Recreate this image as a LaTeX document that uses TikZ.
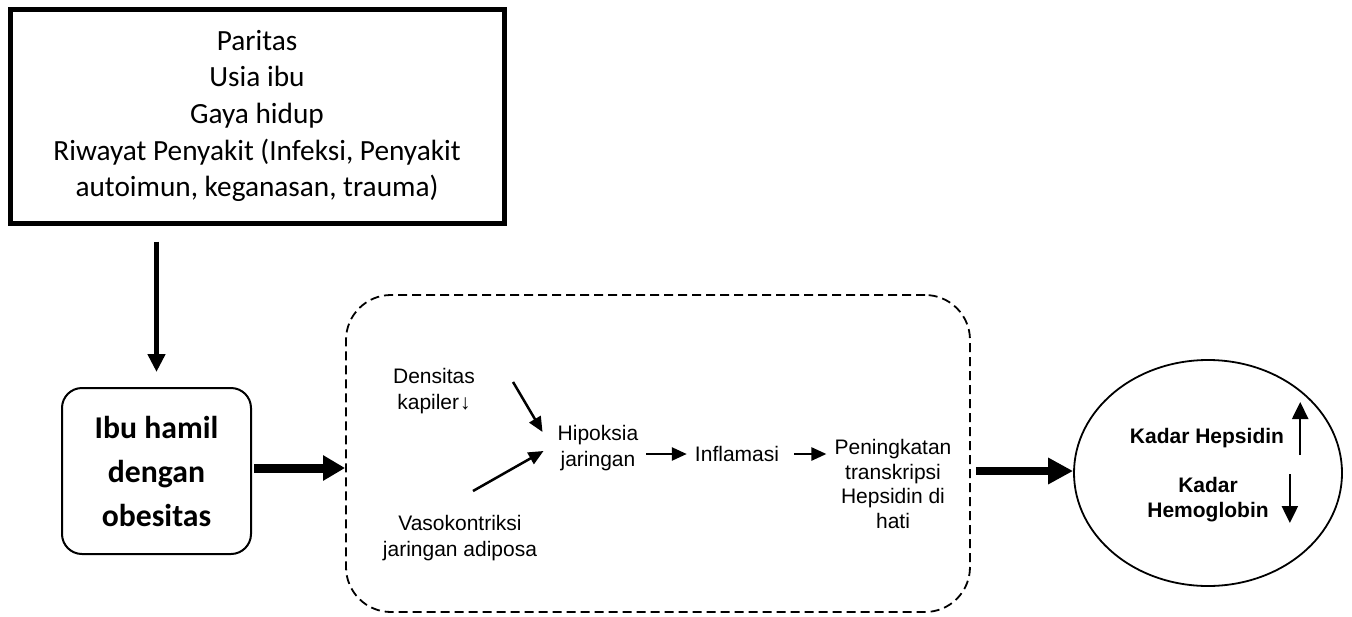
\documentclass[tikz,border=0pt]{standalone}
\usepackage{fontspec}
\setmainfont{Carlito}
\newfontfamily\arialfont{Liberation Sans}
\usetikzlibrary{arrows.meta}
\usetikzlibrary{shapes.geometric}
\tikzset{
  factorbox/.style={draw, line width=5pt, minimum width=494pt, minimum height=214pt, align=center, font=\fontsize{29.3}{36.7}\selectfont},
  subjectbox/.style={draw, line width=2pt, rounded corners=20pt, minimum width=189pt, minimum height=166pt, align=center, font=\fontsize{31.7}{44}\selectfont\bfseries},
  mechbox/.style={draw, dash pattern=on 9pt off 5pt, line width=1.8pt, rounded corners=45pt, minimum width=624pt, minimum height=317pt},
  resultnode/.style={draw, ellipse, line width=1.8pt, minimum width=268pt, minimum height=226pt},
  midtext/.style={align=center, inner sep=0pt, font=\arialfont\fontsize{21}{26}\selectfont},
  boldtext/.style={align=center, inner sep=0pt, font=\arialfont\bfseries\fontsize{21}{25}\selectfont},
  thinarrow/.style={line width=2.5pt, -{Triangle[length=15pt,width=13pt]}},
  levelarrow/.style={line width=2.5pt, -{Triangle[length=17pt,width=16pt]}},
}
\newcommand{\mtext}[3] {\node at (#1) (#2) [midtext] {#3};}
\newcommand{\marrow}[2] {\draw [thinarrow] (#1) -- (#2);}

\begin{document}
\begin{tikzpicture}[x=1pt,y=-1pt]
\useasboundingbox (0,0) rectangle (1352,616);

% main boxes
\node at (257,116) (factors) [factorbox] {Paritas\\Usia ibu\\Gaya hidup\\Riwayat Penyakit (Infeksi, Penyakit\\autoimun, keganasan, trauma)};
\node at (156.5,471) (subject) [subjectbox] {Ibu hamil\\dengan\\obesitas};
\node at (658,453.5) (mech) [mechbox] {};
\node at (1208,473) (result) [resultnode] {};

% mechanism
\mtext {434,391} {dens} {Densitas\\kapiler\kern1pt↓};
\mtext {598,448} {hip} {Hipoksia\\jaringan};
\mtext {460,538} {vaso} {Vasokontriksi\\jaringan adiposa};
\mtext {737,454} {infl} {Inflamasi};
\node at (893,484) (pen) [midtext, font=\arialfont\fontsize{21}{24.7}\selectfont] {Peningkatan\\transkripsi\\Hepsidin di\\hati};

\marrow {[shift={(38,-9)}]dens.east} {[shift={(-15,-16)}]hip.west};
\marrow {[shift={(13,-24)}]vaso.north} {[shift={(-14,3)}]hip.west};
\draw [thinarrow, shorten <=8pt, shorten >=8pt] (hip.east |- infl.west) -- (infl.west);
\draw [thinarrow, shorten <=15pt, shorten >=8pt] (infl.east) -- (infl.east -| pen.west);

% result
\node at (1207,438) (kh) [boldtext] {Kadar Hepsidin};
\node at (1208,500) (khb) [boldtext] {Kadar\\Hemoglobin};
\draw [levelarrow] ([shift={(16,17)}]kh.east) -- ([shift={(16,-36)}]kh.east);
\draw [levelarrow] ([shift={(21,-26)}]khb.east) -- ([shift={(21,23)}]khb.east);

% big arrows
\draw [line width=5pt, -{Triangle[length=18pt,width=17pt]}, shorten <=16pt, shorten >=15pt] (subject.north |- factors.south) -- (subject.north);
\draw [line width=9pt, -{Triangle[length=22pt,width=24pt]}, shorten <=2pt] ([yshift=3pt]subject.east) -- ([yshift=3pt]subject.east -| mech.west);
\draw [line width=8pt, -{Triangle[length=25pt,width=25pt]}, shorten <=5pt] ([yshift=2pt]result.west -| mech.east) -- ([yshift=2pt]result.west);
\end{tikzpicture}
\end{document}
